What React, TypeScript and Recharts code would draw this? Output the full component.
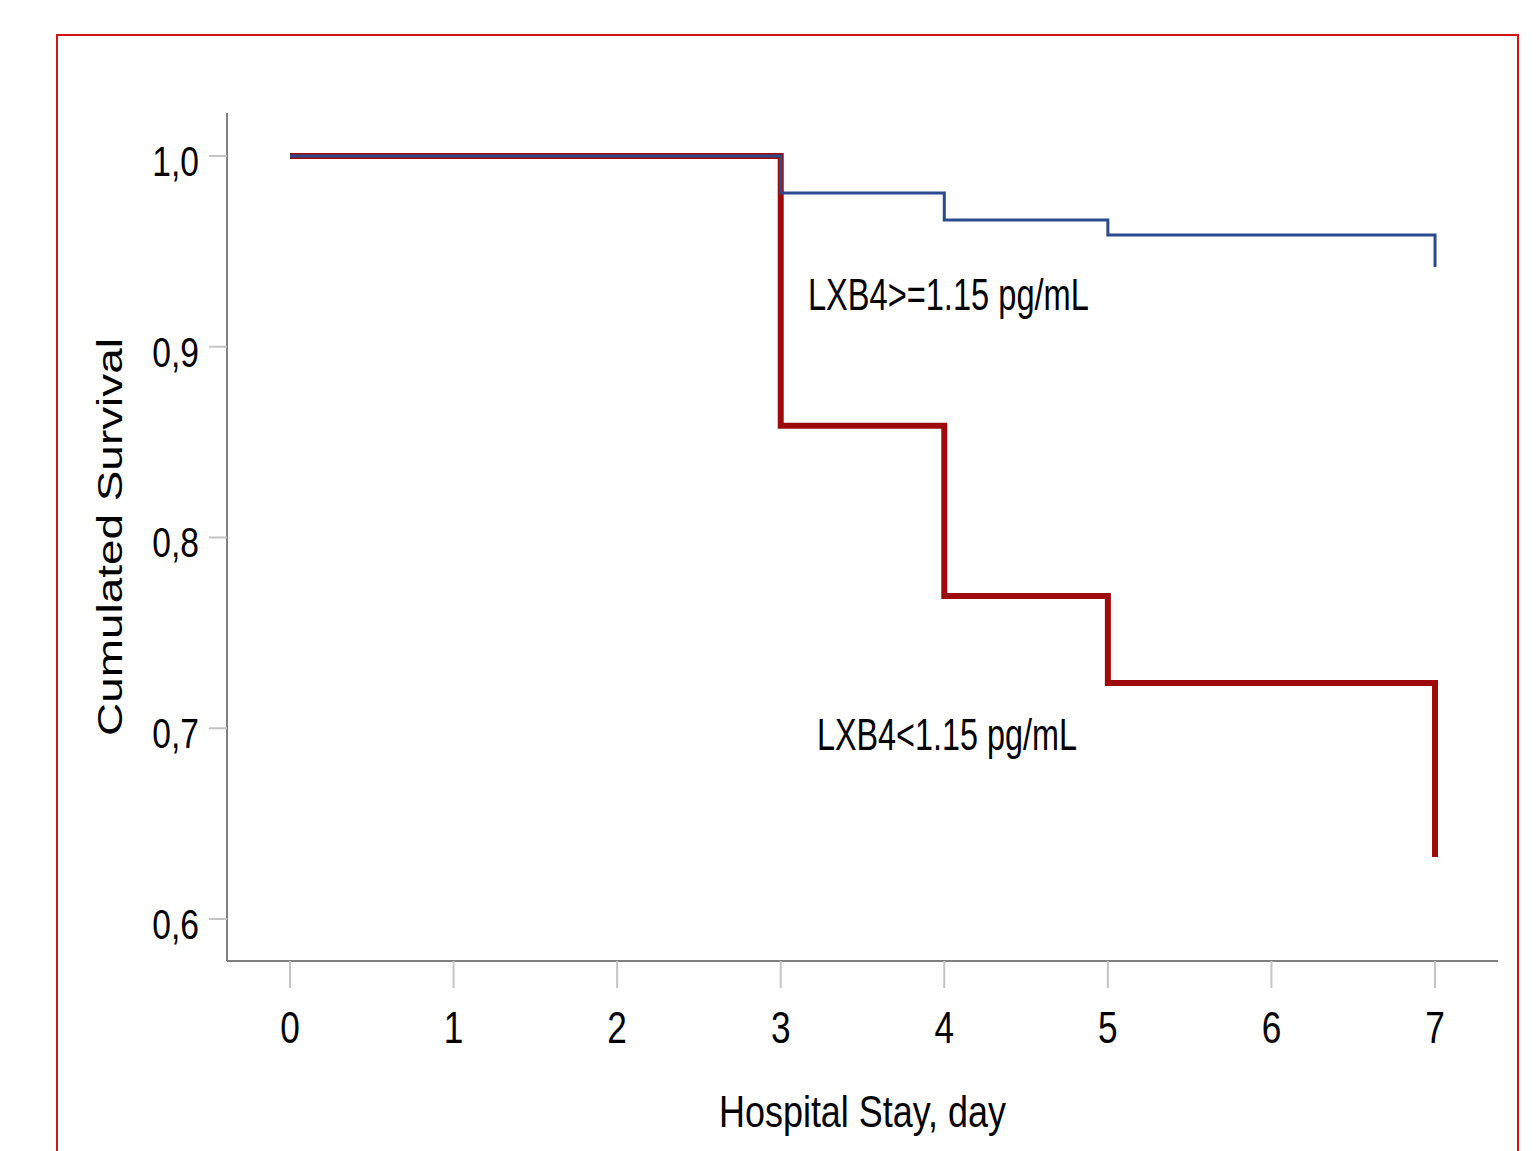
import React from 'react';
import { LineChart, Line, XAxis, YAxis, ReferenceDot } from 'recharts';

// Kaplan-Meier steps
const days = [0, 3, 4, 5, 7];
const highGroup = [1.0, 0.9806, 0.9664, 0.9586, 0.9418];
const lowGroup = [1.0, 0.8585, 0.7693, 0.7237, 0.6325];

const xTicks = [0, 1, 2, 3, 4, 5, 6, 7];
const yTicks = [0.6, 0.7, 0.8, 0.9, 1.0];

const groupLabels = [
  { text: 'LXB4>=1.15 pg/mL', day: 4.025, value: 0.9193, width: 281 },
  { text: 'LXB4<1.15 pg/mL', day: 4.016, value: 0.6886, width: 260 },
];

const data = days.map((d, i) => ({ day: d, high: highGroup[i], low: lowGroup[i] }));

const FONT = '"Liberation Sans", Arial, sans-serif';

const YTick = (props: any) => {
  const { x, y, payload } = props;
  const label = Number(payload.value).toFixed(1).replace('.', ',');
  return (
    <text
      transform={`translate(${x - 10},${y + 20}) scale(0.8,1)`}
      textAnchor="end"
      fontFamily={FONT}
      fontSize={42}
      fill="#000"
    >
      {label}
    </text>
  );
};

const XTick = (props: any) => {
  const { x, y, payload } = props;
  return (
    <text
      transform={`translate(${x},${y + 55}) scale(0.8,1)`}
      textAnchor="middle"
      fontFamily={FONT}
      fontSize={44}
      fill="#000"
    >
      {payload.value}
    </text>
  );
};

const groupLabel = (text: string, width: number) => (props: any) => {
  const vb = props.viewBox;
  const cx = vb.x + (vb.width || 0) / 2;
  const cy = vb.y + (vb.height || 0) / 2;
  return (
    <text
      x={cx}
      y={cy}
      textAnchor="middle"
      fontFamily={FONT}
      fontSize={44}
      fill="#000"
      textLength={width}
      lengthAdjust="spacingAndGlyphs"
    >
      {text}
    </text>
  );
};

const xTitle = (props: any) => {
  const vb = props.viewBox;
  const cx = vb.x + vb.width / 2;
  return (
    <text
      x={cx}
      y={vb.y + 166}
      textAnchor="middle"
      fontFamily={FONT}
      fontSize={44}
      fill="#000"
      textLength={287}
      lengthAdjust="spacingAndGlyphs"
    >
      Hospital Stay, day
    </text>
  );
};

const yTitle = (props: any) => {
  const vb = props.viewBox;
  const cy = vb.y + vb.height / 2;
  return (
    <text
      transform={`translate(122,${cy}) scale(0.75,1) rotate(-90)`}
      textAnchor="middle"
      fontFamily={FONT}
      fontSize={46}
      fill="#000"
      textLength={398}
      lengthAdjust="spacingAndGlyphs"
    >
      Cumulated Survival
    </text>
  );
};

export default function App() {
  return (
    <div style={{ position: 'absolute', left: 0, top: 0, width: 1537, height: 1151, overflow: 'hidden', background: '#fff' }}>
      <div
        style={{
          position: 'absolute',
          left: 56,
          top: 34,
          width: 1459,
          height: 1200,
          border: '2px solid #d01414',
        }}
      />
      <LineChart
        width={1537}
        height={1151}
        data={data}
        margin={{ top: 113, right: 39, left: 0, bottom: 0 }}
        style={{ position: 'absolute', left: 0, top: 0 }}
      >
        <XAxis
          dataKey="day"
          type="number"
          domain={[-0.385, 7.385]}
          allowDataOverflow
          ticks={xTicks}
          interval={0}
          height={190}
          tickSize={27}
          tickMargin={0}
          axisLine={{ stroke: '#808080', strokeWidth: 2 }}
          tickLine={{ stroke: '#c4c4c4', strokeWidth: 2 }}
          tick={<XTick />}
          label={xTitle}
        />
        <YAxis
          type="number"
          domain={[0.578, 1.0225]}
          allowDataOverflow
          ticks={yTicks}
          interval={0}
          width={227}
          tickSize={18}
          tickMargin={0}
          axisLine={{ stroke: '#808080', strokeWidth: 2 }}
          tickLine={{ stroke: '#c4c4c4', strokeWidth: 2 }}
          tick={<YTick />}
          label={yTitle}
        />
        <Line
          dataKey="low"
          type="stepAfter"
          stroke="#9c0a0a"
          strokeWidth={6}
          strokeLinejoin="miter"
          dot={false}
          activeDot={false}
          isAnimationActive={false}
        />
        <Line
          dataKey="high"
          type="stepAfter"
          stroke="#2b4a8e"
          strokeWidth={3}
          strokeLinejoin="miter"
          dot={false}
          activeDot={false}
          isAnimationActive={false}
        />
        {groupLabels.map((g) => (
          <ReferenceDot
            key={g.text}
            x={g.day}
            y={g.value}
            r={0}
            fill="none"
            stroke="none"
            label={groupLabel(g.text, g.width)}
          />
        ))}
      </LineChart>
    </div>
  );
}
